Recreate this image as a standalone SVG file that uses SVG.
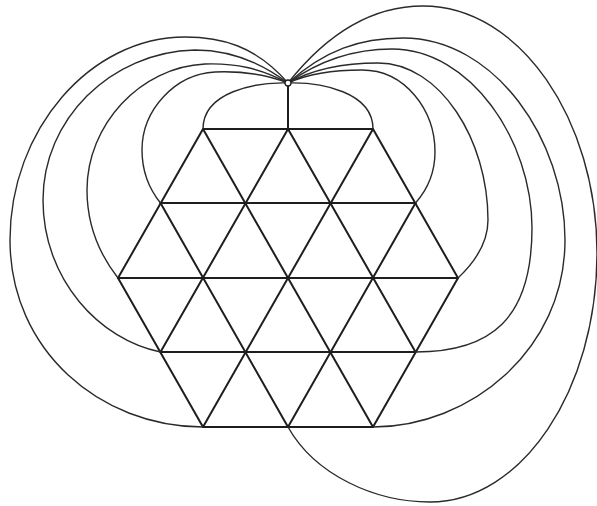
<svg xmlns="http://www.w3.org/2000/svg" width="597" height="506" viewBox="0 0 597 506">
<style>
.grid line{stroke:#1e1e1e;stroke-width:2;stroke-linecap:round}
.curve{fill:none;stroke:#2a2a2a;stroke-width:1.4}
.apex{fill:#fff;stroke:#1e1e1e;stroke-width:1.3}
</style>
<rect width="597" height="506" fill="#fff"/>
<g id="connectors">
<g class="grid">
<line x1="203" y1="129" x2="373" y2="129"/>
<line x1="160.5" y1="203" x2="415.5" y2="203"/>
<line x1="118" y1="278" x2="458" y2="278"/>
<line x1="160.5" y1="352" x2="415.5" y2="352"/>
<line x1="203" y1="427" x2="373" y2="427"/>
<line x1="203" y1="129" x2="373" y2="427"/>
<line x1="288" y1="129" x2="415.5" y2="352"/>
<line x1="373" y1="129" x2="458" y2="278"/>
<line x1="160.5" y1="203" x2="288" y2="427"/>
<line x1="118" y1="278" x2="203" y2="427"/>
<line x1="373" y1="129" x2="203" y2="427"/>
<line x1="288" y1="129" x2="160.5" y2="352"/>
<line x1="203" y1="129" x2="118" y2="278"/>
<line x1="415.5" y1="203" x2="288" y2="427"/>
<line x1="458" y1="278" x2="373" y2="427"/>
<line x1="288" y1="86" x2="288" y2="129"/>
</g>
<path class="curve" d="M288,83 C255,82 203,92 203,129"/>
<path class="curve" d="M288,83 C265,74 240,71 215,72 C175,74 142,110 142,150 C142,172 150,190 160.5,203"/>
<path class="curve" d="M288,83 C260,68 235,63 205,64 C140,67 87,125 87,190 C87,225 100,255 118,278"/>
<path class="curve" d="M288,83 C255,58 225,50 195,50 C110,52 43,120 43,200 C43,280 100,340 160.5,352"/>
<path class="curve" d="M288,83 C255,45 220,37 185,37 C90,37 10,130 10,240 C10,350 100,427 203,427"/>
<path class="curve" d="M288,83 C321,82 373,92 373,129"/>
<path class="curve" d="M288,83 C310,73 335,70 362,70 C405,70 435,110 435,152 C435,172 427,190 415.5,203"/>
<path class="curve" d="M288,83 C315,68 345,63 378,63 C440,63 488,140 488,220 C488,242 475,262 458,278"/>
<path class="curve" d="M288,83 C320,60 355,49 392,49 C470,49 532,140 532,228 C532,320 490,352 415.5,352"/>
<path class="curve" d="M288,83 C325,50 360,38 403,38 C495,38 565,140 565,240 C565,350 470,427 373,427"/>
<path class="curve" d="M288,83 C330,30 375,6 423,6 C520,6 597,120 597,253 C597,390 522,502 430,502 C375,502 315,475 288,427"/>
</g>
<g id="apex">
<circle class="apex" cx="288" cy="83" r="3"/>
</g>
</svg>
